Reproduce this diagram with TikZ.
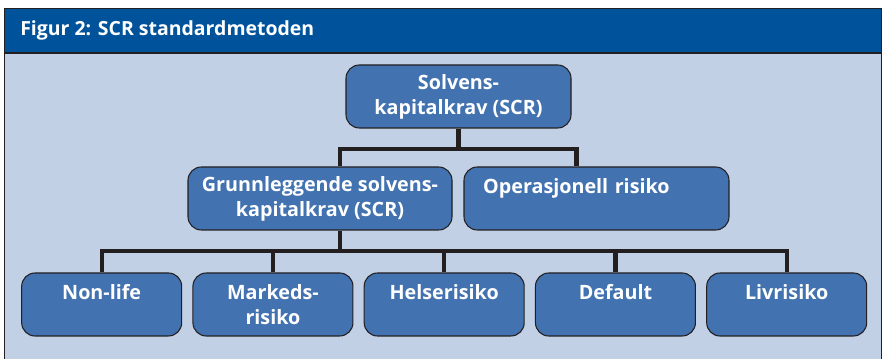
\documentclass[tikz,border=0pt]{standalone}
\usepackage{fontspec}
\setmainfont{Open Sans}
\usetikzlibrary{positioning,calc}
\definecolor{titleblue}{RGB}{0,82,155}
\definecolor{paleblue}{RGB}{194,208,230}
\definecolor{boxblue}{RGB}{66,115,176}
\definecolor{linegray}{RGB}{35,31,32}

\begin{document}
\begin{tikzpicture}[x=0.75pt,y=-0.75pt,
    boxstyle/.style={rectangle,rounded corners=10pt,draw=linegray,line
    width=0.8pt,fill=boxblue,text=white,font=\bfseries\fontsize{14.8}{18.75}\selectfont,
    align=center,minimum height=47.25pt,inner sep=0pt},
    linkstyle/.style={draw=linegray,line width=3.2pt}]
    \useasboundingbox (0,0) rectangle (883,359);
    % frame and title bar
    \fill[paleblue] (4.5,8.5) rectangle (881.5,365);
    \fill[titleblue] (4.5,8.5) rectangle (881.5,53);
    \draw[linegray,line width=0.8pt] (4.5,53) -- (881.5,53);
    \draw[linegray,line width=1.2pt] (4.5,365) -- (4.5,8.5) -- (881.5,8.5) -- (881.5,365);
    \node[anchor=base west,inner sep=0pt,text=white,font=\bfseries\fontsize{14.6}{17}\selectfont]
        (title) at (20,36) {Figur 2: SCR standardmetoden};
    % boxes
    \node[boxstyle,minimum width=168.75pt] (scr) at (458.5,96.5) {Solvens-\\kapitalkrav (SCR)};
    \node[boxstyle,minimum width=198pt] (basic) at (320,198.5) {Grunnleggende solvens-\\kapitalkrav (SCR)};
    \node[boxstyle,minimum width=198.75pt,text width=170pt,align=left,inner xsep=14pt]
        (oper) at (596.5,198.5) {Operasjonell risiko\\\mbox{}};
    \foreach \txt [count=\i] in {{Non-life\\\mbox{}},{Markeds-\\risiko},{Helserisiko\\\mbox{}},{Default\\\mbox{}},{Livrisiko\\\mbox{}}}
        \node[boxstyle,minimum width=120pt] (mod\i) at (101.7+171.25*\i-171.25,304.5) {\txt};
    % connectors
    \coordinate (bus1) at (458.5,149);
    \coordinate (bus2) at (340,251);
    \draw[linkstyle] (scr.south) -- (bus1);
    \draw[linkstyle] ([xshift=15pt]basic.north) |- (bus1) -| ([xshift=-15pt]oper.north);
    \draw[linkstyle] ([xshift=15pt]basic.south) -- (bus2);
    \foreach \i in {1,...,5}
        \draw[linkstyle] (mod\i.north) |- (bus2);
\end{tikzpicture}
\end{document}
